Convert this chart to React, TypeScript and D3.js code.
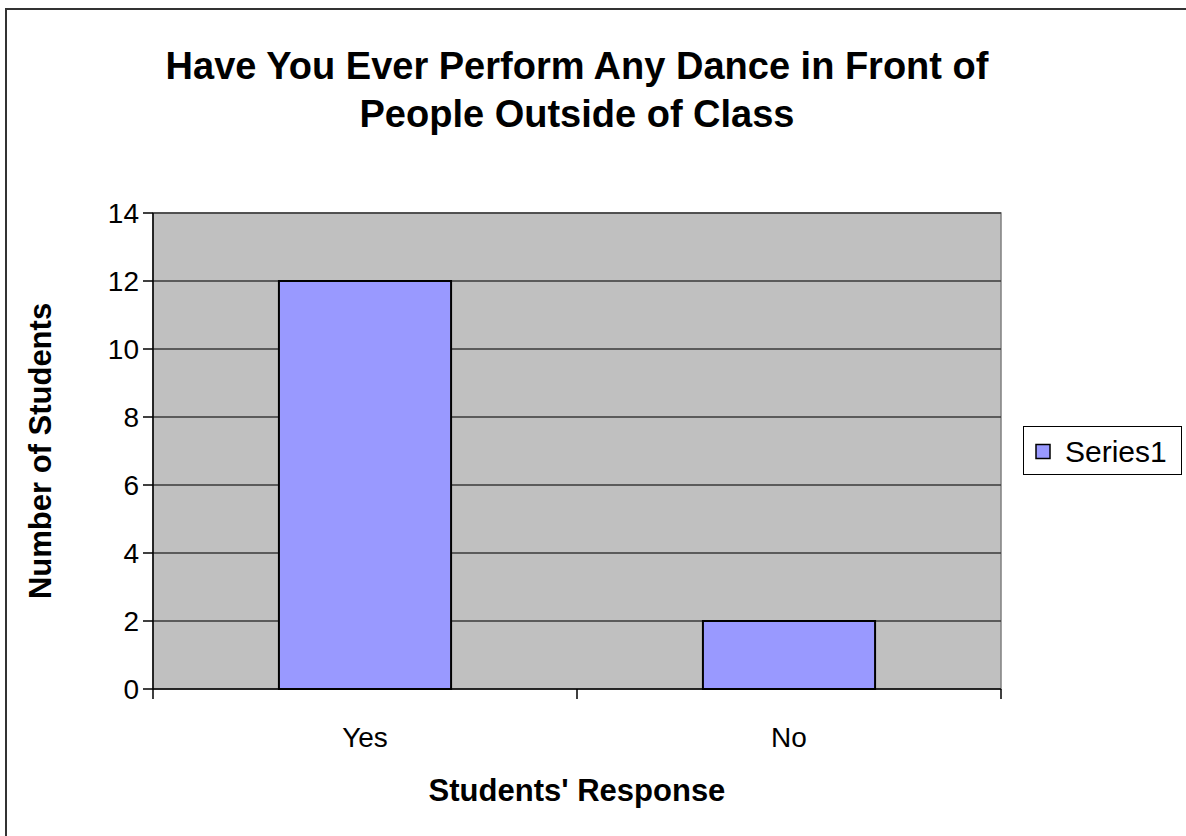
import React from "react";
import * as d3 from "d3";

const categories = ["Yes", "No"];
const values = [12, 2];
const yTicks = [0, 2, 4, 6, 8, 10, 12, 14];
const seriesName = "Series1";
const titleLines = ["Have You Ever Perform Any Dance in Front of", "People Outside of Class"];
const xTitle = "Students' Response";
const yTitle = "Number of Students";

const W = 1186;
const H = 836;
const plot = { left: 153, right: 1001, top: 213, bottom: 689 };
const font = "'Liberation Sans', Arial, sans-serif";

export default function App() {
  const x = d3
    .scaleBand<string>()
    .domain(categories)
    .range([plot.left, plot.right])
    .paddingInner(0.594)
    .paddingOuter(0.297);
  const y = d3.scaleLinear().domain([0, 14]).range([plot.bottom, plot.top]);
  const step = x.step();
  const bounds = [plot.left, ...categories.map((_, i) => plot.left + step * (i + 1))];

  return (
    <svg
      width={W}
      height={H}
      style={{ position: "absolute", left: 0, top: 0, background: "#fff" }}
      fontFamily={font}
    >
      <rect x={6} y={9} width={1300} height={1000} fill="#fff" stroke="#333" strokeWidth={2} />
      {titleLines.map((t, i) => (
        <text key={i} x={577} y={79 + i * 48} textAnchor="middle" fontSize={38} fontWeight="bold">
          {t}
        </text>
      ))}
      <rect
        x={plot.left}
        y={plot.top}
        width={plot.right - plot.left}
        height={plot.bottom - plot.top}
        fill="#c0c0c0"
        stroke="#808080"
        strokeWidth={1.5}
      />
      {yTicks.map((t) => (
        <g key={t}>
          {t > 0 && (
            <line x1={plot.left} x2={plot.right} y1={y(t)} y2={y(t)} stroke="#3a3a3a" strokeWidth={1.5} />
          )}
          <line x1={plot.left - 10} x2={plot.left} y1={y(t)} y2={y(t)} stroke="#000" strokeWidth={1.5} />
          <text x={plot.left - 14} y={y(t) + 10} textAnchor="end" fontSize={28}>
            {t}
          </text>
        </g>
      ))}
      {categories.map((c, i) => (
        <rect
          key={c}
          x={x(c)!}
          y={y(values[i])}
          width={x.bandwidth()}
          height={y(0) - y(values[i])}
          fill="#9999ff"
          stroke="#000"
          strokeWidth={2}
        />
      ))}
      <line x1={plot.left} x2={plot.left} y1={plot.top} y2={plot.bottom} stroke="#000" strokeWidth={1.5} />
      <line x1={plot.left} x2={plot.right} y1={plot.bottom} y2={plot.bottom} stroke="#000" strokeWidth={1.5} />
      {bounds.map((b, i) => (
        <line key={i} x1={b} x2={b} y1={plot.bottom} y2={plot.bottom + 10} stroke="#000" strokeWidth={1.5} />
      ))}
      {categories.map((c) => (
        <text key={c} x={x(c)! + x.bandwidth() / 2} y={747} textAnchor="middle" fontSize={28}>
          {c}
        </text>
      ))}
      <text x={577} y={801} textAnchor="middle" fontSize={31} fontWeight="bold">
        {xTitle}
      </text>
      <text
        transform={`translate(51, 451) rotate(-90)`}
        textAnchor="middle"
        fontSize={31}
        fontWeight="bold"
      >
        {yTitle}
      </text>
      <rect x={1023.5} y={426.5} width={158} height={48} fill="#fff" stroke="#000" strokeWidth={1} />
      <rect x={1036} y={444.5} width={14} height={14} fill="#9999ff" stroke="#000" strokeWidth={1.5} />
      <text x={1065} y={462} fontSize={30}>
        {seriesName}
      </text>
    </svg>
  );
}
